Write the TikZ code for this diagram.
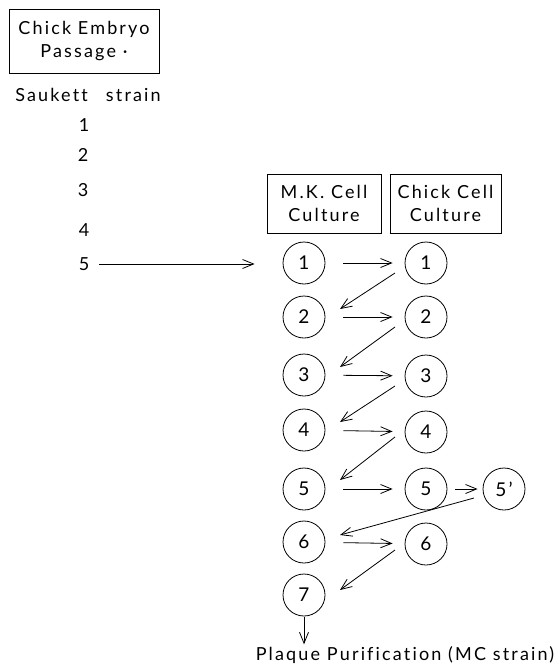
\documentclass[tikz,border=0pt]{standalone}
\usepackage{fontspec}
\setmainfont{Lato}[LetterSpace=12, Ligatures={TeX, NoCommon}]
\usetikzlibrary{arrows.meta}

\tikzset{
  cellbox/.style={draw, line width=0.8pt, align=center, inner sep=0pt, font=\fontsize{18}{22.5}\selectfont},
  passage/.style={circle, draw, line width=0.8pt, minimum size=42pt, inner sep=0pt, font=\fontsize{19}{20}\selectfont},
  label/.style={inner sep=2pt, font=\fontsize{18}{20}\selectfont},
  link/.style={->, line width=0.8pt},
  hop/.style={link, shorten <=18pt, shorten >=12pt}
}

\begin{document}
\begin{tikzpicture}[x=1pt, y=-1pt, >={Straight Barb[length=11pt, width=9pt]}]
  \useasboundingbox (0,0) rectangle (556,669);
  % egg passages of the Saukett strain
  \node[cellbox, minimum width=150pt, minimum height=64pt] (embryo) at (84,41) {Chick Embryo\\Passage ·};
  \node[label] (saukett) at (88,95) {Saukett\quad{}strain};
  \node[label] (s1) at (84,125) {1};
  \node[label] (s2) at (83,155) {2};
  \node[label] (s3) at (83,190) {3};
  \node[label] (s4) at (84,230) {4};
  \node[label] (s5) at (84,264) {5};

  % tissue culture columns
  \node[cellbox, minimum width=114pt, minimum height=59pt] (mkbox) at (324,203.5) {M.K. Cell\\Culture};
  \node[cellbox, minimum width=111pt, minimum height=59pt] (ckbox) at (445.5,203.5) {Chick Cell\\Culture};

  \node[passage] (mk1) at (304,263) {1};
  \node[passage] (mk2) at (304,317) {2};
  \node[passage] (mk3) at (304,375) {3};
  \node[passage] (mk4) at (304,430) {4};
  \node[passage] (mk5) at (304,489) {5};
  \node[passage] (mk6) at (304,542) {6};
  \node[passage] (mk7) at (304,595) {7};

  \node[passage] (ck1) at (426,263) {1};
  \node[passage] (ck2) at (426,317) {2};
  \node[passage] (ck3) at (426,376) {3};
  \node[passage] (ck4) at (426,432) {4};
  \node[passage] (ck5) at (426,489) {5};
  \node[passage] (ck6) at (426,544) {6};
  \node[passage] (ck5p) at (504,489) {5'};

  \node[label] (plaque) at (405,655) {Plaque Purification (MC strain)};

  % transfers
  \draw[link, shorten <=8pt, shorten >=28pt] (s5.east) -- (s5.east -| mk1.west);
  \draw[hop] (mk1) -- (ck1);
  \draw[hop] (mk2) -- (ck2);
  \draw[hop] (mk3) -- (ck3);
  \draw[hop] (mk4) -- (ck4);
  \draw[hop] (mk5) -- (ck5);
  \draw[hop] (mk6) -- (ck6);
  \draw[link, shorten <=8pt, shorten >=5pt] (ck5) -- (ck5p);

  \draw[link] ([xshift=-31pt, yshift=-10pt]ck1.center) -- ([xshift=36pt, yshift=8pt]mk2.center);
  \draw[link] ([xshift=-31pt, yshift=-10pt]ck2.center) -- ([xshift=36pt, yshift=8pt]mk3.center);
  \draw[link] ([xshift=-31pt, yshift=-10pt]ck3.center) -- ([xshift=36pt, yshift=8pt]mk4.center);
  \draw[link] ([xshift=-31pt, yshift=-5pt]ck4.center) -- ([xshift=36pt, yshift=9pt]mk5.center);
  \draw[link] ([xshift=-30pt, yshift=-9pt]ck5p.center) -- ([xshift=36pt, yshift=7pt]mk6.center);
  \draw[link] ([xshift=-31pt, yshift=-6pt]ck6.center) -- ([xshift=36pt, yshift=5pt]mk7.center);

  \draw[link, shorten <=1pt] (mk7.south) -- (mk7.south |- plaque.north);
\end{tikzpicture}
\end{document}
